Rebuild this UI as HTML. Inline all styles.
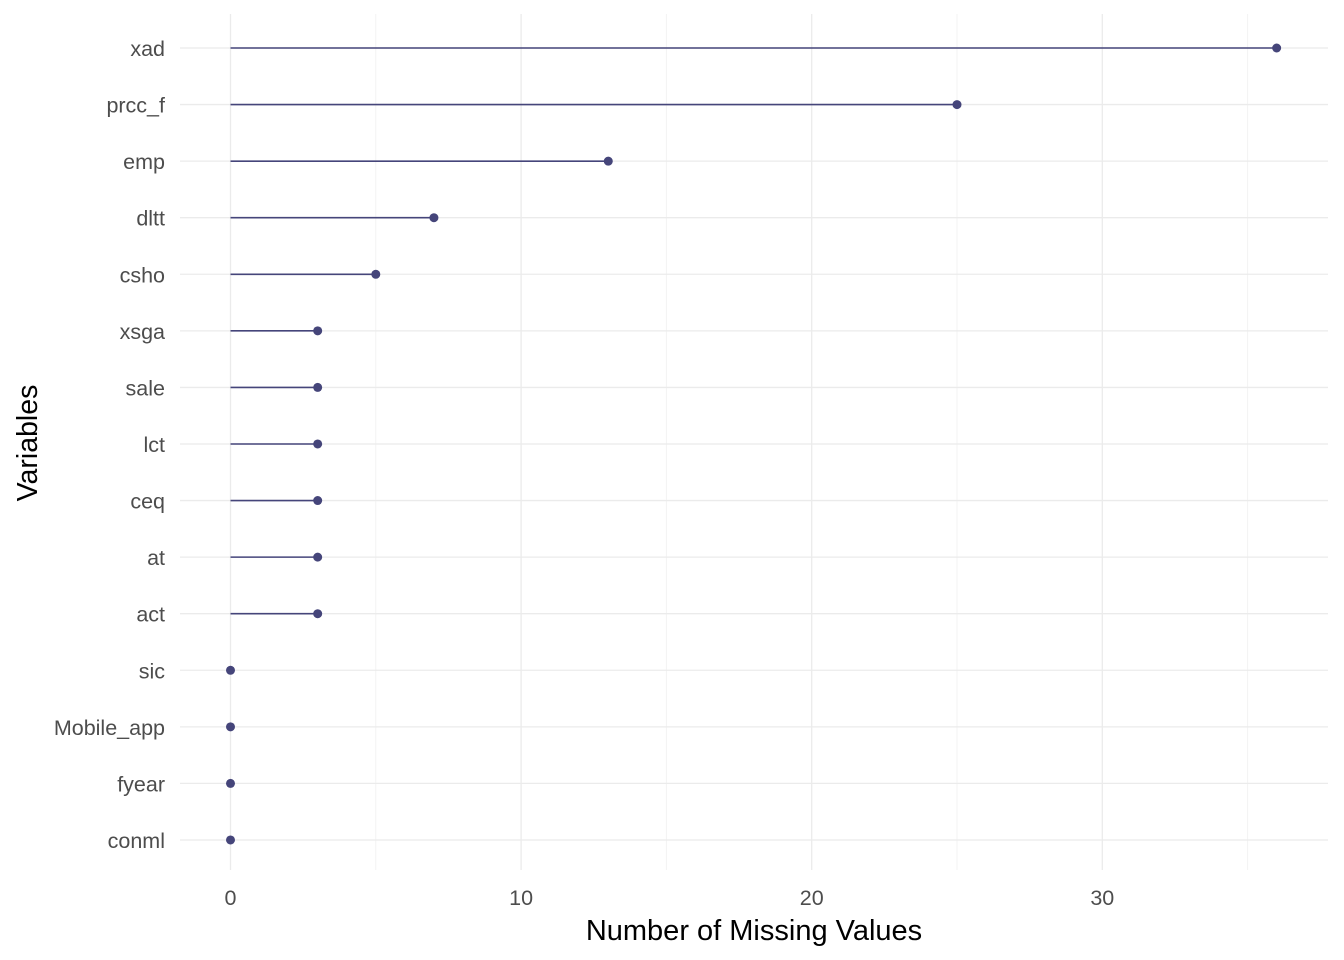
<!DOCTYPE html>
<html><head><meta charset="utf-8"><style>
body{margin:0;background:#fff;}
svg{display:block;font-family:"Liberation Sans",Arial,sans-serif;}
</style></head><body>
<svg id="chart" width="1344" height="960">
<g id="grid"></g><g id="marks"></g><g id="labels"></g>
<text x="754" y="940" font-size="29" fill="#000" text-anchor="middle">Number of Missing Values</text>
<text transform="translate(37,443) rotate(-90)" font-size="28.5" fill="#000" text-anchor="middle">Variables</text>
</svg>
<script>
const categories=["xad","prcc_f","emp","dltt","csho","xsga","sale","lct","ceq","at","act","sic","Mobile_app","fyear","conml"];
const values=[36,25,13,7,5,3,3,3,3,3,3,0,0,0,0];
const xTicks=[0,10,20,30];
const xMinor=[5,15,25,35];
const NS="http://www.w3.org/2000/svg";
const x=v=>230.5+v*29.06;
const y=i=>48+i*56.57;
const L=180,R=1328,T=14,B=870;
function mk(tag,attrs,parent){const e=document.createElementNS(NS,tag);for(const k in attrs)e.setAttribute(k,attrs[k]);parent.appendChild(e);return e;}
const grid=document.getElementById('grid'),marks=document.getElementById('marks'),labels=document.getElementById('labels');
xMinor.forEach(v=>{const l=mk('line',{x1:x(v),x2:x(v),y1:T,y2:B,stroke:'#f3f3f3','stroke-width':1},grid);

});
xTicks.forEach(v=>{const l=mk('line',{x1:x(v),x2:x(v),y1:T,y2:B,stroke:'#ebebeb','stroke-width':1.3},grid);


const t=mk('text',{x:x(v),y:905,'font-size':21.5,fill:'#4d4d4d','text-anchor':'middle'},labels);t.textContent=v;

});
categories.forEach((c,i)=>{const g=mk('line',{x1:L,x2:R,y1:y(i),y2:y(i),stroke:'#ebebeb','stroke-width':1.3},grid);


const t=mk('text',{x:165,y:y(i)+8,'font-size':21.5,fill:'#4d4d4d','text-anchor':'end'},labels);t.textContent=c;


const s=mk('line',{x1:x(0),x2:x(values[i]),y1:y(i),y2:y(i),stroke:'#45457a','stroke-width':1.6},marks);


const p=mk('circle',{cx:x(values[i]),cy:y(i),r:4.5,fill:'#45457a'},marks);

});
</script>
</body></html>
